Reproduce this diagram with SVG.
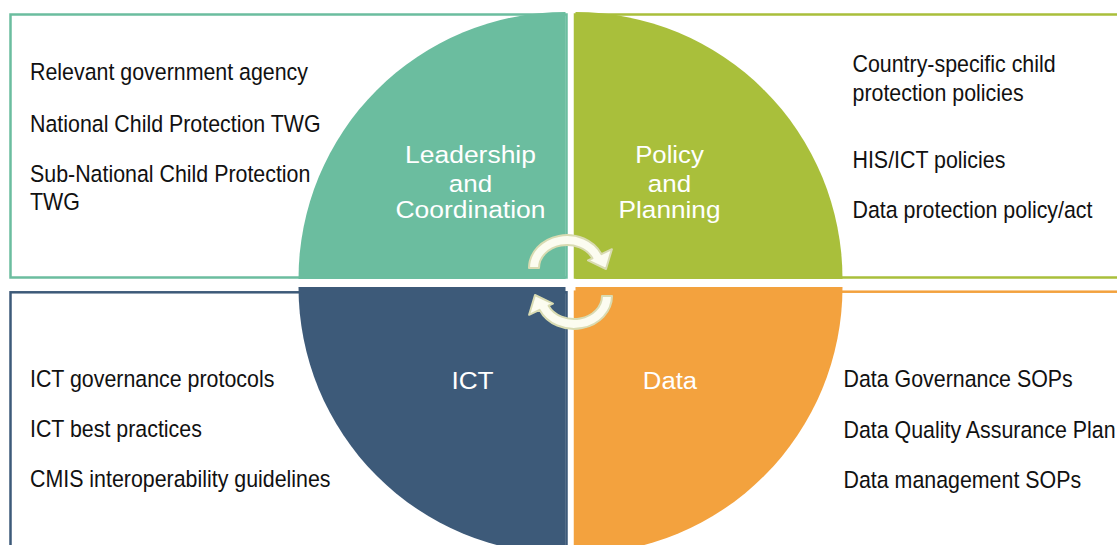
<svg xmlns="http://www.w3.org/2000/svg" width="1117" height="545" viewBox="0 0 1117 545">
<style>
.box { fill: #ffffff; stroke-width: 2.5; }
.item { font-family: "Liberation Sans", Arial, sans-serif; font-size: 23.5px; fill: #111111; }
.lbl { font-family: "Liberation Sans", Arial, sans-serif; font-size: 24.5px; fill: #ffffff; text-anchor: middle; }
.cyc { fill: #fcfcf0; stroke: #d9dbb2; stroke-width: 2; stroke-linejoin: round; }
</style>
<rect width="1117" height="545" fill="#ffffff"/>

<g id="leadership">
  <rect class="box" x="10.5" y="14.5" width="556" height="263" stroke="#6bbd9f"/>
  <path d="M565.5,279 L298.5,279 A267,267 0 0 1 565.5,12 Z" fill="#6bbd9f"/>
  <text class="lbl" transform="translate(470.5,163.3) scale(1.08,1)">Leadership</text>
  <text class="lbl" transform="translate(470.5,191.5) scale(1.06,1)">and</text>
  <text class="lbl" transform="translate(470.5,218.3) scale(1.08,1)">Coordination</text>
  <text class="item" transform="translate(30,80) scale(0.91,1)">Relevant government agency</text>
  <text class="item" transform="translate(30,131.5) scale(0.91,1)">National Child Protection TWG</text>
  <text class="item" transform="translate(30,181.5) scale(0.91,1)">Sub-National Child Protection</text>
  <text class="item" transform="translate(30,210) scale(0.91,1)">TWG</text>
</g>

<g id="policy">
  <rect class="box" x="575" y="14.5" width="560" height="263" stroke="#a9bf3b"/>
  <path d="M575.5,279 L575.5,12 A267,267 0 0 1 842.5,279 Z" fill="#a9bf3b"/>
  <text class="lbl" transform="translate(669.5,163.3) scale(1.05,1)">Policy</text>
  <text class="lbl" transform="translate(669.5,191.5) scale(1.06,1)">and</text>
  <text class="lbl" transform="translate(669.5,218.3) scale(1.07,1)">Planning</text>
  <text class="item" transform="translate(852.5,72) scale(0.91,1)">Country-specific child</text>
  <text class="item" transform="translate(852.5,100.5) scale(0.91,1)">protection policies</text>
  <text class="item" transform="translate(852.5,168.3) scale(0.91,1)">HIS/ICT policies</text>
  <text class="item" transform="translate(852.5,218.3) scale(0.91,1)">Data protection policy/act</text>
</g>

<g id="ict">
  <rect class="box" x="10.5" y="292.3" width="556" height="270" stroke="#3d5a79"/>
  <path d="M565.5,287 L565.5,554 A267,267 0 0 1 298.5,287 Z" fill="#3d5a79"/>
  <text class="lbl" transform="translate(472.5,389.3) scale(1.07,1)">ICT</text>
  <text class="item" transform="translate(30,386.7) scale(0.91,1)">ICT governance protocols</text>
  <text class="item" transform="translate(30,436.7) scale(0.91,1)">ICT best practices</text>
  <text class="item" transform="translate(30,486.7) scale(0.91,1)">CMIS interoperability guidelines</text>
</g>

<g id="data">
  <rect class="box" x="575" y="291.7" width="560" height="270" stroke="#f3a23e"/>
  <path d="M575.5,287 L842.5,287 A267,267 0 0 1 575.5,554 Z" fill="#f3a23e"/>
  <text class="lbl" transform="translate(670,389.3) scale(1.05,1)">Data</text>
  <text class="item" transform="translate(843.5,386.7) scale(0.91,1)">Data Governance SOPs</text>
  <text class="item" transform="translate(843.5,438) scale(0.91,1)">Data Quality Assurance Plan</text>
  <text class="item" transform="translate(843.5,488) scale(0.91,1)">Data management SOPs</text>
</g>

<g id="connectors">
  <path id="cycle-top" class="cyc" d="M539,268 L529,268 A38,33 0 0 1 601.4,254.1 L611.9,249.2 L606,269 L588,260.4 L592.4,258.3 A28,23 0 0 0 539,268 Z"/>
  <path id="cycle-bottom" class="cyc" transform="rotate(180 570.5 282)" d="M539,268 L529,268 A38,33 0 0 1 601.4,254.1 L611.9,249.2 L606,269 L588,260.4 L592.4,258.3 A28,23 0 0 0 539,268 Z"/>
</g>
</svg>
